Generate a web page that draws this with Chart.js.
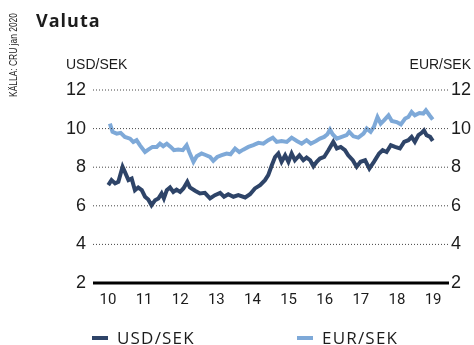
<!DOCTYPE html>
<html>
<head>
<meta charset="utf-8">
<script src="https://cdn.jsdelivr.net/npm/chart.js@4/dist/chart.umd.min.js"></script>
<style>
  html, body { margin: 0; padding: 0; background: #fff; }
</style>
</head>
<body>
<canvas id="valuta" width="474" height="345"></canvas>
<script>
var title = 'Valuta';
var source = 'KÄLLA: CRU jan 2020';
var leftUnit = 'USD/SEK';
var rightUnit = 'EUR/SEK';

// x axis labels, spread evenly over the span of the data
var years = ['10', '11', '12', '13', '14', '15', '16', '17', '18', '19'];
var spanStart = 2010;
var spanEnd = 2020;

var usdDates = [
  2010.01, 2010.11, 2010.22, 2010.32, 2010.45, 2010.52, 2010.63, 2010.73, 2010.83, 2010.93,
  2011.04, 2011.14, 2011.24, 2011.34, 2011.45, 2011.55, 2011.65, 2011.72, 2011.81, 2011.91,
  2012.01, 2012.11, 2012.22, 2012.32, 2012.44, 2012.52, 2012.68, 2012.83, 2012.98,
  2013.14, 2013.29, 2013.45, 2013.57, 2013.70, 2013.86,
  2014.01, 2014.22, 2014.37, 2014.52, 2014.68, 2014.83, 2014.93,
  2015.04, 2015.14, 2015.24, 2015.34, 2015.45, 2015.55, 2015.65, 2015.75, 2015.89,
  2016.01, 2016.11, 2016.22, 2016.32, 2016.42, 2016.52, 2016.65, 2016.78, 2016.93,
  2017.04, 2017.16, 2017.29, 2017.39, 2017.53, 2017.65, 2017.77, 2017.91,
  2018.04, 2018.18, 2018.34, 2018.45, 2018.57, 2018.70, 2018.83, 2018.98,
  2019.11, 2019.24, 2019.34, 2019.44, 2019.55, 2019.65, 2019.72, 2019.80, 2019.91, 2019.99
];
var usdRates = [
  7.07, 7.33, 7.16, 7.24, 8.02, 7.76, 7.33, 7.41, 6.81, 6.95,
  6.81, 6.47, 6.33, 6.03, 6.29, 6.38, 6.64, 6.38, 6.81, 6.95,
  6.72, 6.84, 6.72, 6.90, 7.24, 6.95, 6.78, 6.64, 6.67,
  6.38, 6.55, 6.67, 6.47, 6.60, 6.47,
  6.55, 6.43, 6.60, 6.90, 7.07, 7.33, 7.59,
  8.10, 8.53, 8.71, 8.28, 8.62, 8.28, 8.71, 8.36, 8.62,
  8.36, 8.50, 8.36, 8.05, 8.28, 8.45, 8.53, 8.88, 9.31,
  8.97, 9.05, 8.88, 8.62, 8.36, 8.02, 8.28, 8.36,
  7.93, 8.28, 8.71, 8.88, 8.79, 9.14, 9.05, 8.97,
  9.31, 9.40, 9.57, 9.31, 9.66, 9.78, 9.91, 9.66, 9.57, 9.36
];

var eurDates = [
  2010.06, 2010.14, 2010.27, 2010.39, 2010.52, 2010.68, 2010.78, 2010.88, 2010.98,
  2011.14, 2011.24, 2011.37, 2011.50, 2011.60, 2011.70, 2011.81, 2011.93,
  2012.03, 2012.16, 2012.30, 2012.42, 2012.50, 2012.63, 2012.73, 2012.88,
  2013.02, 2013.14, 2013.24, 2013.36, 2013.50, 2013.65, 2013.77, 2013.91,
  2014.04, 2014.16, 2014.32, 2014.47, 2014.63, 2014.78, 2014.93,
  2015.07, 2015.19, 2015.34, 2015.50, 2015.65, 2015.81, 2015.96,
  2016.11, 2016.24, 2016.40, 2016.52, 2016.65, 2016.75, 2016.83, 2016.91,
  2017.04, 2017.19, 2017.34, 2017.42, 2017.55, 2017.70, 2017.86, 2017.96,
  2018.08, 2018.18, 2018.29, 2018.39, 2018.49, 2018.63, 2018.73, 2018.88,
  2019.01, 2019.14, 2019.24, 2019.34, 2019.44, 2019.58, 2019.70, 2019.78, 2019.89, 2019.99
];
var eurRates = [
  10.26, 9.83, 9.74, 9.78, 9.57, 9.48, 9.31, 9.40, 9.14,
  8.79, 8.91, 9.05, 9.05, 9.22, 9.09, 9.22, 9.05,
  8.88, 8.91, 8.88, 9.14, 8.79, 8.28, 8.57, 8.71,
  8.62, 8.53, 8.33, 8.53, 8.62, 8.71, 8.67, 8.97,
  8.79, 8.91, 9.05, 9.14, 9.26, 9.22, 9.40,
  9.53, 9.31, 9.36, 9.31, 9.53, 9.36, 9.22,
  9.40, 9.22, 9.36, 9.48, 9.57, 9.71, 9.95, 9.71,
  9.48, 9.57, 9.66, 9.83, 9.60, 9.53, 9.74, 10.00,
  9.83, 10.09, 10.60, 10.26, 10.43, 10.69, 10.40, 10.34,
  10.22, 10.52, 10.60, 10.86, 10.69, 10.81, 10.78, 10.95, 10.69, 10.47
];

var rateTicks = [2, 4, 6, 8, 10, 12];

var usdColor = '#2e4468';
var eurColor = '#7ea9d8';
var ink = '#1c1c1c';

function points(dates, rates) {
  return dates.map(function (d, i) { return { x: d, y: rates[i] }; });
}

// one horizontal rule across the plot at a given rate
function rule(chart, value, width, color, dash) {
  var ctx = chart.ctx;
  var area = chart.chartArea;
  var py = chart.scales.y.getPixelForValue(value);
  ctx.save();
  ctx.strokeStyle = color;
  ctx.lineWidth = width;
  ctx.setLineDash(dash);
  ctx.beginPath();
  ctx.moveTo(area.left, py);
  ctx.lineTo(area.right, py);
  ctx.stroke();
  ctx.restore();
}

// dotted rate lines, heavy base line, headline, source note, unit captions and legend
var textPlugin = {
  id: 'valutaText',
  afterDraw: function (chart) {
    for (var i = 1; i < rateTicks.length; i++) {
      rule(chart, rateTicks[i], 1, '#444', [1, 2]);
    }
    rule(chart, rateTicks[0], 3, '#000', []);

    var ctx = chart.ctx;
    ctx.save();
    ctx.fillStyle = ink;
    ctx.textBaseline = 'alphabetic';

    ctx.font = 'bold 18px "Open Sans"';
    ctx.letterSpacing = '1px';
    ctx.textAlign = 'left';
    ctx.fillText(title, 36, 27);
    ctx.letterSpacing = '0px';

    ctx.font = '14px "Liberation Sans"';
    ctx.fillText(leftUnit, 66, 69);
    ctx.textAlign = 'right';
    ctx.fillText(rightUnit, 471, 69);

    // narrow vertical note along the left edge
    ctx.save();
    ctx.translate(17, 97);
    ctx.rotate(-Math.PI / 2);
    ctx.textAlign = 'left';
    ctx.font = '11px "Liberation Sans"';
    var w = ctx.measureText(source).width;
    ctx.scale(84 / w, 1);
    ctx.fillText(source, 0, 0);
    ctx.restore();

    var legendX = [92, 297];
    ctx.textAlign = 'left';
    ctx.font = '17px "Open Sans"';
    ctx.letterSpacing = '1.2px';
    chart.data.datasets.forEach(function (ds, i) {
      ctx.fillStyle = ds.borderColor;
      ctx.fillRect(legendX[i], 336, 16, 4);
      ctx.fillStyle = ink;
      ctx.fillText(ds.label, legendX[i] + 25, 344);
    });
    ctx.restore();
  }
};

var rateAxis = {
  min: rateTicks[0],
  max: rateTicks[rateTicks.length - 1],
  afterBuildTicks: function (axis) {
    axis.ticks = rateTicks.map(function (v) { return { value: v }; });
  },
  ticks: {
    color: ink,
    font: { family: '"Liberation Sans Narrow", "Liberation Sans"', size: 18 }
  },
  grid: { display: false, drawTicks: false },
  border: { display: false }
};

new Chart(document.getElementById('valuta'), {
  type: 'line',
  data: {
    datasets: [
      {
        label: 'USD/SEK',
        data: points(usdDates, usdRates),
        borderColor: usdColor,
        backgroundColor: usdColor,
        borderWidth: 4,
        pointRadius: 0,
        tension: 0,
        yAxisID: 'y'
      },
      {
        label: 'EUR/SEK',
        data: points(eurDates, eurRates),
        borderColor: eurColor,
        backgroundColor: eurColor,
        borderWidth: 4,
        pointRadius: 0,
        tension: 0,
        yAxisID: 'y'
      }
    ]
  },
  options: {
    responsive: false,
    animation: false,
    layout: { padding: { top: 90, left: 0, right: 0, bottom: 0 } },
    plugins: {
      legend: { display: false },
      tooltip: { enabled: false }
    },
    scales: {
      x: {
        type: 'linear',
        min: 2009.54,
        max: 2020.49,
        afterBuildTicks: function (axis) {
          var step = (spanEnd - spanStart) / (years.length - 1);
          axis.ticks = years.map(function (y, i) { return { value: spanStart + i * step }; });
        },
        afterFit: function (scale) { scale.height = 62; },
        ticks: {
          autoSkip: false,
          maxRotation: 0,
          padding: 8,
          color: ink,
          font: { family: 'Roboto', size: 15 },
          callback: function (value, index) { return years[index]; }
        },
        grid: { display: false, drawTicks: false },
        border: { display: false }
      },
      y: Object.assign({}, rateAxis, {
        position: 'left',
        afterFit: function (scale) { scale.width = 93; },
        ticks: Object.assign({}, rateAxis.ticks, { padding: 7 })
      }),
      y2: Object.assign({}, rateAxis, {
        position: 'right',
        afterFit: function (scale) { scale.width = 25; },
        ticks: Object.assign({}, rateAxis.ticks, { padding: 2 })
      })
    }
  },
  plugins: [textPlugin]
});
</script>
</body>
</html>
